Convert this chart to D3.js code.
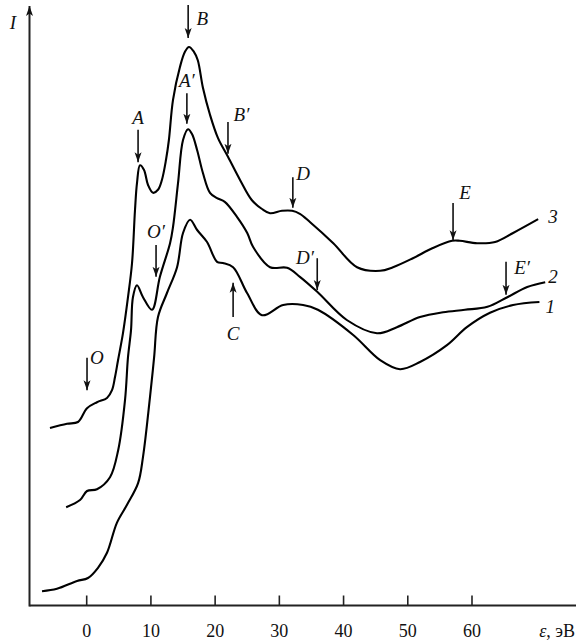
<!DOCTYPE html>
<html>
<head>
<meta charset="utf-8">
<script src="https://cdn.jsdelivr.net/npm/d3@7"></script>
<style>
  html, body { margin: 0; padding: 0; background: #fff; }
  svg text { font-family: "Liberation Serif", "DejaVu Serif", serif; fill: #111; }
</style>
</head>
<body>
<svg id="plot"></svg>
<script>
const WIDTH = 576;
const HEIGHT = 641;

// energy ticks, eV
const xTicks = [0, 10, 20, 30, 40, 50, 60];

// spectra: [energy eV, intensity arb.]
const curve1 = [
    [-6.96, 2.3], [-4.63, 2.7], [-1.5, 4.0], [0.2, 4.5], [1.76, 6.2], [3.16, 8.7],
    [4.7, 13.7], [6.28, 16.7], [8.0, 20.3], [8.77, 24.7], [9.86, 34.7], [10.5, 41.3],
    [11.1, 48.0], [12.5, 52.0], [14.07, 56.3], [15.0, 62.0], [16.1, 64.2], [17.2, 62.5],
    [18.74, 60.5], [20.3, 57.2], [21.2, 57.0], [22.8, 56.3], [24.97, 52.0], [27.3, 48.3],
    [30.6, 50.0], [33.7, 50.0], [36.0, 49.2], [41.5, 45.0], [45.7, 40.8], [48.8, 39.3],
    [51.9, 40.5], [56.1, 43.3], [59.2, 46.3], [62.8, 48.7], [66.4, 50.0], [70.5, 50.5]
];
const curve2 = [
    [-3.2, 16.3], [-1.04, 17.5], [0.05, 19.0], [1.6, 19.3], [3.63, 21.3], [4.9, 25.8],
    [5.97, 34.2], [6.43, 41.3], [6.9, 45.8], [7.2, 51.3], [7.83, 53.3], [8.77, 51.3],
    [10.17, 49.2], [11.4, 54.7], [12.98, 60.3], [13.44, 63.0], [14.22, 70.3], [15.0, 77.5],
    [15.78, 79.3], [16.4, 78.5], [17.2, 75.8], [18.1, 72.0], [19.2, 68.7], [20.3, 67.8],
    [21.5, 67.2], [23.4, 64.7], [25.0, 62.0], [25.9, 59.7], [28.55, 56.3], [31.2, 56.2],
    [33.2, 54.7], [35.9, 52.2], [40.5, 47.5], [45.2, 45.3], [48.3, 46.3], [51.9, 48.0],
    [55.5, 48.8], [58.9, 49.2], [62.4, 49.7], [65.5, 51.3], [68.6, 53.0], [71.4, 53.8]
];
const curve3 = [
    [-5.72, 29.5], [-3.07, 30.2], [-1.36, 30.5], [0.05, 32.8], [1.6, 33.8], [3.16, 34.5],
    [3.94, 35.8], [4.41, 38.0], [4.88, 40.8], [5.65, 45.3], [6.43, 51.3], [7.06, 57.0],
    [7.52, 65.8], [7.83, 70.3], [8.3, 73.3], [8.93, 72.5], [9.55, 70.0], [10.33, 68.7],
    [11.1, 69.2], [11.7, 70.8], [12.35, 74.2], [12.8, 77.5], [13.44, 84.2], [14.53, 89.7],
    [15.3, 92.2], [15.93, 93.0], [16.7, 92.2], [17.3, 90.8], [18.1, 86.2], [19.2, 81.7],
    [20.45, 77.8], [22.0, 74.7], [23.9, 70.8], [25.7, 67.5], [27.3, 66.0], [28.55, 65.3],
    [30.4, 65.7], [32.0, 65.7], [33.2, 65.2], [34.8, 63.8], [38.4, 60.3], [42.1, 56.3],
    [45.7, 55.7], [47.7, 56.3], [50.8, 57.8], [53.9, 59.5], [56.9, 60.7], [58.1, 60.7],
    [60.8, 60.3], [63.6, 60.5], [66.4, 62.0], [70.3, 64.3]
];

// feature arrows: energy, tip intensity, tail intensity
const arrowNames = ["B", "A\u2032", "A", "B\u2032", "D", "O\u2032", "D\u2032", "E", "E\u2032", "O", "C"];
const arrowX =     [15.8, 15.6, 8.0, 22.0, 32.1, 10.8, 35.9, 57.05, 65.3, 0.05, 22.8];
const arrowTip =   [94.5, 80.2, 73.8, 75.2, 66.2, 54.7, 52.5, 60.8, 51.7, 35.8, 53.7];
const arrowTail =  [100, 85.3, 79.2, 80.5, 71.3, 60.0, 57.8, 67.0, 57.2, 41.2, 48.0];
// feature labels: energy, intensity of label centre
const labelX = [18.0, 15.6, 8.0, 24.1, 33.7, 10.8, 34.0, 58.9, 67.8, 1.6, 22.8];
const labelY = [97.8, 87.5, 81.3, 81.8, 72.0, 62.2, 58.0, 68.7, 56.2, 41.2, 45.3];

// curve numbers
const curveNames = ["3", "2", "1"];
const curveNameX = [72.6, 72.6, 72.2];
const curveNameY = [64.7, 54.7, 49.7];

function draw() {
    const svg = d3.select('#plot')
        .attr('width', WIDTH)
        .attr('height', HEIGHT);

    const x = d3.scaleLinear().domain([0, 60]).range([86.7, 472]);
    const y = d3.scaleLinear().domain([0, 100]).range([605, 5]);

    const axisY = 605.5;
    const axisX = 29.5;

    svg.append('defs').append('marker')
        .attr('id', 'head')
        .attr('viewBox', '0 0 10 10')
        .attr('refX', 10).attr('refY', 5)
        .attr('markerWidth', 10).attr('markerHeight', 10)
        .attr('markerUnits', 'userSpaceOnUse')
        .attr('orient', 'auto')
        .append('path')
            .attr('d', 'M0,1.5 L10,5 L0,8.5 L2.5,5 Z')
            .attr('fill', '#111');

    // axes
    const ax = svg.append('g').attr('stroke', '#222').attr('stroke-width', 2).attr('fill', 'none');
    ax.append('line')
        .attr('x1', axisX).attr('x2', WIDTH)
        .attr('y1', axisY).attr('y2', axisY);
    ax.append('line')
        .attr('x1', axisX).attr('x2', axisX)
        .attr('y1', axisY + 1).attr('y2', 6)
        .attr('marker-end', 'url(#head)');
    ax.selectAll('.tick')
        .data(xTicks)
        .enter().append('line')
            .attr('x1', d => x(d)).attr('x2', d => x(d))
            .attr('y1', axisY).attr('y2', axisY - 10)
            .attr('stroke-width', 1.6);

    svg.append('g')
        .selectAll('text')
        .data(xTicks)
        .enter().append('text')
            .attr('x', d => x(d))
            .attr('y', 637)
            .attr('text-anchor', 'middle')
            .attr('font-size', 18)
            .text(d => d);

    const unit = svg.append('text')
        .attr('x', WIDTH - 1)
        .attr('y', 637)
        .attr('text-anchor', 'end')
        .attr('font-size', 18);
    unit.append('tspan').attr('font-style', 'italic').text('\u03b5');
    unit.append('tspan').text(', \u044d\u0412');

    svg.append('text')
        .attr('x', 13).attr('y', 29)
        .attr('text-anchor', 'middle')
        .attr('font-size', 19)
        .attr('font-style', 'italic')
        .text('I');

    // spectra
    const line = d3.line()
        .x(d => x(d[0]))
        .y(d => y(d[1]))
        .curve(d3.curveCatmullRom.alpha(0.5));

    svg.append('g')
        .selectAll('path')
        .data([curve1, curve2, curve3])
        .enter().append('path')
            .attr('d', line)
            .attr('fill', 'none')
            .attr('stroke', '#000')
            .attr('stroke-width', 2.1)
            .attr('stroke-linejoin', 'round');

    // arrows
    svg.append('g')
        .selectAll('line')
        .data(arrowNames)
        .enter().append('line')
            .attr('x1', (d, i) => x(arrowX[i]))
            .attr('x2', (d, i) => x(arrowX[i]))
            .attr('y1', (d, i) => y(arrowTail[i]))
            .attr('y2', (d, i) => y(arrowTip[i]))
            .attr('stroke', '#111')
            .attr('stroke-width', 1.6)
            .attr('marker-end', 'url(#head)');

    svg.append('g')
        .selectAll('text')
        .data(arrowNames)
        .enter().append('text')
            .attr('x', (d, i) => x(labelX[i]))
            .attr('y', (d, i) => y(labelY[i]) + 6.5)
            .attr('text-anchor', 'middle')
            .attr('font-size', 19)
            .attr('font-style', 'italic')
            .text(d => d);

    svg.append('g')
        .selectAll('text')
        .data(curveNames)
        .enter().append('text')
            .attr('x', (d, i) => x(curveNameX[i]))
            .attr('y', (d, i) => y(curveNameY[i]) + 6.5)
            .attr('text-anchor', 'middle')
            .attr('font-size', 19)
            .attr('font-style', 'italic')
            .text(d => d);
}

window.onload = draw;
</script>
</body>
</html>
